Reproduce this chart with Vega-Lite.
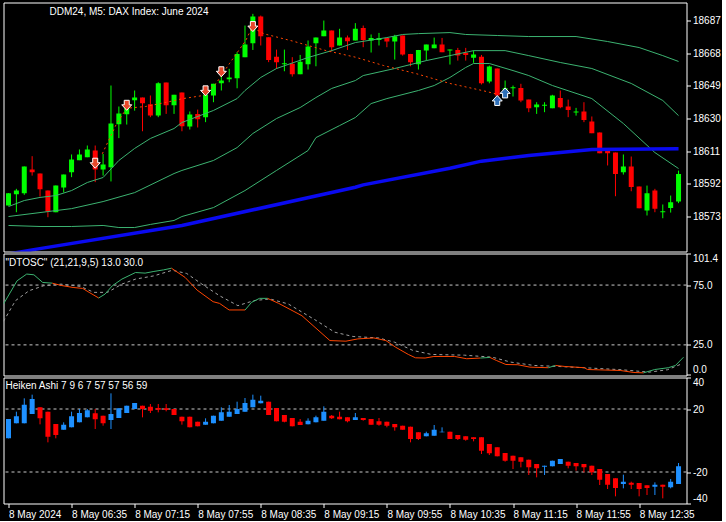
{
  "$schema": "https://vega.github.io/schema/vega-lite/v6.json",
  "background": "#000000",
  "padding": {"left": 2.5, "top": 1.5, "right": 0, "bottom": 0},
  "bounds": "flush",
  "spacing": 2,
  "config": {
    "view": {"stroke": "#FFFFFF", "strokeWidth": 1},
    "axis": {"domain": false, "grid": false, "labelColor": "#FFFFFF", "tickColor": "#FFFFFF", "labelFont": "Liberation Sans", "labelFontSize": 10, "tickSize": 4, "labelPadding": 2},
    "title": {"color": "#FFFFFF", "font": "Liberation Sans", "fontSize": 10, "fontWeight": "normal", "anchor": "start", "baseline": "top"}
  },
  "datasets": {
    "candles": [
      {"i":0,"o":18579.4,"h":18586.6,"l":18579.4,"c":18586.6},
      {"i":1,"o":18586.0,"h":18589.1,"l":18575.5,"c":18588.1},
      {"i":2,"o":18586.6,"h":18602.1,"l":18585.6,"c":18602.1},
      {"i":3,"o":18600.3,"h":18608.1,"l":18596.8,"c":18598.8},
      {"i":4,"o":18598.0,"h":18598.0,"l":18584.6,"c":18588.9},
      {"i":5,"o":18588.1,"h":18588.1,"l":18572.6,"c":18575.9},
      {"i":6,"o":18575.5,"h":18591.0,"l":18575.5,"c":18591.0},
      {"i":7,"o":18589.9,"h":18597.4,"l":18587.0,"c":18597.4},
      {"i":8,"o":18598.8,"h":18609.1,"l":18595.9,"c":18606.2},
      {"i":9,"o":18605.8,"h":18612.0,"l":18605.8,"c":18609.1},
      {"i":10,"o":18607.5,"h":18614.3,"l":18607.5,"c":18612.0},
      {"i":11,"o":18611.4,"h":18614.3,"l":18593.0,"c":18600.3},
      {"i":12,"o":18600.3,"h":18609.4,"l":18596.8,"c":18603.2},
      {"i":13,"o":18601.7,"h":18649.2,"l":18593.4,"c":18627.1},
      {"i":14,"o":18626.7,"h":18637.0,"l":18618.6,"c":18632.9},
      {"i":15,"o":18632.5,"h":18640.0,"l":18626.5,"c":18639.5},
      {"i":16,"o":18640.7,"h":18646.3,"l":18634.6,"c":18642.2},
      {"i":17,"o":18642.2,"h":18642.2,"l":18622.6,"c":18638.9},
      {"i":18,"o":18638.3,"h":18643.4,"l":18630.8,"c":18631.7},
      {"i":19,"o":18631.7,"h":18651.1,"l":18630.8,"c":18650.5},
      {"i":20,"o":18650.9,"h":18650.9,"l":18632.7,"c":18637.8},
      {"i":21,"o":18637.8,"h":18643.8,"l":18632.7,"c":18643.8},
      {"i":22,"o":18645.1,"h":18645.1,"l":18622.6,"c":18625.5},
      {"i":23,"o":18625.3,"h":18634.1,"l":18623.6,"c":18632.3},
      {"i":24,"o":18632.7,"h":18635.2,"l":18624.8,"c":18629.6},
      {"i":25,"o":18630.8,"h":18643.8,"l":18627.9,"c":18643.8},
      {"i":26,"o":18643.4,"h":18650.2,"l":18639.5,"c":18650.2},
      {"i":27,"o":18650.5,"h":18658.9,"l":18646.3,"c":18652.1},
      {"i":28,"o":18652.9,"h":18658.9,"l":18651.1,"c":18653.9},
      {"i":29,"o":18653.5,"h":18668.6,"l":18647.6,"c":18667.6},
      {"i":30,"o":18665.7,"h":18684.1,"l":18665.7,"c":18673.0},
      {"i":31,"o":18673.8,"h":18690.9,"l":18669.9,"c":18689.3},
      {"i":32,"o":18689.3,"h":18689.9,"l":18672.5,"c":18677.9},
      {"i":33,"o":18677.3,"h":18677.3,"l":18662.8,"c":18664.1},
      {"i":34,"o":18666.0,"h":18670.1,"l":18658.9,"c":18662.8},
      {"i":35,"o":18661.6,"h":18670.1,"l":18657.5,"c":18662.2},
      {"i":36,"o":18661.8,"h":18665.7,"l":18654.4,"c":18655.8},
      {"i":37,"o":18655.8,"h":18667.0,"l":18655.8,"c":18663.1},
      {"i":38,"o":18661.6,"h":18675.4,"l":18658.5,"c":18671.9},
      {"i":39,"o":18673.8,"h":18677.1,"l":18660.4,"c":18677.1},
      {"i":40,"o":18677.9,"h":18687.0,"l":18677.9,"c":18681.2},
      {"i":41,"o":18681.2,"h":18681.2,"l":18669.0,"c":18671.5},
      {"i":42,"o":18672.5,"h":18682.2,"l":18672.5,"c":18677.1},
      {"i":43,"o":18677.1,"h":18678.3,"l":18669.9,"c":18675.0},
      {"i":44,"o":18675.4,"h":18685.5,"l":18675.4,"c":18682.2},
      {"i":45,"o":18682.7,"h":18684.1,"l":18671.5,"c":18675.7},
      {"i":46,"o":18675.4,"h":18678.9,"l":18668.4,"c":18676.9},
      {"i":47,"o":18675.7,"h":18679.8,"l":18672.5,"c":18676.9},
      {"i":48,"o":18676.9,"h":18676.9,"l":18671.5,"c":18674.8},
      {"i":49,"o":18674.8,"h":18678.7,"l":18664.3,"c":18677.9},
      {"i":50,"o":18678.3,"h":18678.3,"l":18666.6,"c":18667.2},
      {"i":51,"o":18667.6,"h":18667.6,"l":18660.4,"c":18662.8},
      {"i":52,"o":18661.6,"h":18669.9,"l":18658.5,"c":18669.9},
      {"i":53,"o":18669.6,"h":18673.0,"l":18663.7,"c":18673.0},
      {"i":54,"o":18670.9,"h":18677.1,"l":18670.9,"c":18673.0},
      {"i":55,"o":18673.0,"h":18676.9,"l":18668.6,"c":18668.6},
      {"i":56,"o":18669.6,"h":18670.1,"l":18661.4,"c":18670.1},
      {"i":57,"o":18669.9,"h":18671.1,"l":18663.7,"c":18666.6},
      {"i":58,"o":18668.2,"h":18671.1,"l":18663.7,"c":18667.0},
      {"i":59,"o":18665.3,"h":18669.6,"l":18662.4,"c":18667.2},
      {"i":60,"o":18666.0,"h":18667.0,"l":18649.8,"c":18650.5},
      {"i":61,"o":18651.5,"h":18660.8,"l":18650.5,"c":18660.2},
      {"i":62,"o":18659.1,"h":18659.1,"l":18642.8,"c":18643.4},
      {"i":63,"o":18646.7,"h":18652.1,"l":18645.9,"c":18647.6},
      {"i":64,"o":18647.6,"h":18649.2,"l":18642.8,"c":18648.2},
      {"i":65,"o":18647.8,"h":18650.2,"l":18639.5,"c":18640.5},
      {"i":66,"o":18641.0,"h":18641.0,"l":18633.7,"c":18636.0},
      {"i":67,"o":18636.6,"h":18639.5,"l":18632.7,"c":18638.1},
      {"i":68,"o":18637.4,"h":18639.5,"l":18633.7,"c":18638.0},
      {"i":69,"o":18636.0,"h":18643.8,"l":18636.0,"c":18643.4},
      {"i":70,"o":18642.0,"h":18646.3,"l":18636.0,"c":18636.6},
      {"i":71,"o":18637.0,"h":18641.0,"l":18630.8,"c":18635.0},
      {"i":72,"o":18633.5,"h":18636.2,"l":18631.7,"c":18634.1},
      {"i":73,"o":18634.1,"h":18639.5,"l":18627.9,"c":18629.2},
      {"i":74,"o":18628.3,"h":18631.2,"l":18621.5,"c":18621.5},
      {"i":75,"o":18621.9,"h":18621.9,"l":18609.8,"c":18609.8},
      {"i":76,"o":18611.4,"h":18611.4,"l":18602.7,"c":18609.8},
      {"i":77,"o":18610.2,"h":18610.2,"l":18584.8,"c":18597.8},
      {"i":78,"o":18598.8,"h":18609.1,"l":18597.4,"c":18602.1},
      {"i":79,"o":18602.1,"h":18607.9,"l":18587.7,"c":18590.1},
      {"i":80,"o":18590.4,"h":18590.4,"l":18577.8,"c":18577.8},
      {"i":81,"o":18576.5,"h":18591.0,"l":18573.6,"c":18586.6},
      {"i":82,"o":18588.1,"h":18589.1,"l":18575.5,"c":18577.5},
      {"i":83,"o":18575.5,"h":18580.0,"l":18572.0,"c":18576.1},
      {"i":84,"o":18577.9,"h":18585.2,"l":18575.3,"c":18581.3},
      {"i":85,"o":18581.7,"h":18599.7,"l":18580.8,"c":18597.8}
    ],
    "bands": [
      {"b":"up","i":0,"v":18578.8},{"b":"up","i":2,"v":18582.3},{"b":"up","i":4,"v":18584.1},{"b":"up","i":6,"v":18585.2},
      {"b":"up","i":8,"v":18588.1},{"b":"up","i":10,"v":18592.8},{"b":"up","i":12,"v":18595.7},{"b":"up","i":14,"v":18605.6},
      {"b":"up","i":16,"v":18612.6},{"b":"up","i":18,"v":18618.4},{"b":"up","i":21,"v":18624.2},{"b":"up","i":22,"v":18627.7},
      {"b":"up","i":26,"v":18634.7},{"b":"up","i":29,"v":18641.6},{"b":"up","i":30,"v":18646.3},{"b":"up","i":32,"v":18653.9},
      {"b":"up","i":34,"v":18659.1},{"b":"up","i":38,"v":18665.5},{"b":"up","i":41,"v":18669.5},{"b":"up","i":44,"v":18674.2},
      {"b":"up","i":48,"v":18677.1},{"b":"up","i":50,"v":18678.9},{"b":"up","i":52,"v":18679.4},{"b":"up","i":56,"v":18680.0},
      {"b":"up","i":58,"v":18678.9},{"b":"up","i":62,"v":18678.3},{"b":"up","i":66,"v":18677.7},{"b":"up","i":72,"v":18677.7},
      {"b":"up","i":76,"v":18674.8},{"b":"up","i":80,"v":18671.3},{"b":"up","i":83,"v":18666.6},{"b":"up","i":85,"v":18663.2},
      {"b":"mid","i":0,"v":18573.0},{"b":"mid","i":4,"v":18575.3},{"b":"mid","i":8,"v":18577.6},{"b":"mid","i":12,"v":18581.7},
      {"b":"mid","i":16,"v":18586.9},{"b":"mid","i":21,"v":18598.0},{"b":"mid","i":22,"v":18599.8},{"b":"mid","i":26,"v":18605.6},
      {"b":"mid","i":29,"v":18613.1},{"b":"mid","i":31,"v":18621.3},{"b":"mid","i":34,"v":18630.0},{"b":"mid","i":37,"v":18636.4},
      {"b":"mid","i":39,"v":18642.2},{"b":"mid","i":41,"v":18647.5},{"b":"mid","i":44,"v":18652.1},{"b":"mid","i":45,"v":18655.0},
      {"b":"mid","i":49,"v":18659.1},{"b":"mid","i":53,"v":18663.7},{"b":"mid","i":59,"v":18669.5},{"b":"mid","i":63,"v":18669.5},
      {"b":"mid","i":66,"v":18666.6},{"b":"mid","i":70,"v":18662.6},{"b":"mid","i":74,"v":18659.1},{"b":"mid","i":79,"v":18650.4},
      {"b":"mid","i":83,"v":18640.5},{"b":"mid","i":85,"v":18631.7},
      {"b":"low","i":0,"v":18567.8},{"b":"low","i":4,"v":18567.2},{"b":"low","i":8,"v":18567.2},{"b":"low","i":12,"v":18567.8},
      {"b":"low","i":14,"v":18566.6},{"b":"low","i":16,"v":18566.6},{"b":"low","i":18,"v":18568.4},{"b":"low","i":21,"v":18570.7},
      {"b":"low","i":22,"v":18573.0},{"b":"low","i":26,"v":18578.2},{"b":"low","i":30,"v":18588.1},{"b":"low","i":34,"v":18599.8},
      {"b":"low","i":38,"v":18611.4},{"b":"low","i":39,"v":18618.9},{"b":"low","i":42,"v":18625.9},{"b":"low","i":44,"v":18630.6},
      {"b":"low","i":46,"v":18638.7},{"b":"low","i":48,"v":18641.6},{"b":"low","i":52,"v":18646.3},{"b":"low","i":54,"v":18649.2},
      {"b":"low","i":56,"v":18653.9},{"b":"low","i":58,"v":18659.7},{"b":"low","i":59,"v":18662.0},{"b":"low","i":61,"v":18662.0},
      {"b":"low","i":64,"v":18657.9},{"b":"low","i":66,"v":18655.0},{"b":"low","i":69,"v":18649.2},{"b":"low","i":74,"v":18641.6},
      {"b":"low","i":78,"v":18627.1},{"b":"low","i":82,"v":18610.2},{"b":"low","i":85,"v":18600.9}
    ],
    "ma": [
      {"i":0,"v":18551.2},{"i":3,"v":18553.6},{"i":22,"v":18567.8},{"i":44,"v":18590.0},{"i":45,"v":18591.4},
      {"i":56,"v":18601.1},{"i":60,"v":18605.2},{"i":66,"v":18608.5},{"i":70,"v":18610.2},{"i":74,"v":18612.0},{"i":85,"v":18612.4}
    ],
    "zz": [
      {"i":11.9,"v":18609.5},{"i":13.7,"v":18626.9},{"i":15,"v":18636.0},{"i":17.4,"v":18637.0},{"i":20.1,"v":18639.5},
      {"i":22,"v":18641.5},{"i":24.7,"v":18643.4},{"i":26.3,"v":18650.2},{"i":28,"v":18661.8},{"i":30.1,"v":18675.4},
      {"i":30.9,"v":18683.1},{"i":32.4,"v":18679.3},{"i":36.1,"v":18675.0},{"i":40.3,"v":18669.5},{"i":44,"v":18665.7},
      {"i":47.6,"v":18660.8},{"i":51.8,"v":18656.0},{"i":55.9,"v":18650.5},{"i":60.1,"v":18646.3},{"i":61.8,"v":18644.4}
    ],
    "arrows": [
      {"i":11,"v":18604.0,"d":"down"},{"i":15,"v":18637.7,"d":"down"},{"i":25,"v":18646.1,"d":"down"},
      {"i":27,"v":18657.2,"d":"down"},{"i":31,"v":18683.5,"d":"down"},
      {"i":62,"v":18640.5,"d":"up"},{"i":63,"v":18644.9,"d":"up"}
    ],
    "osc": [
      {"s":1,"k":"g","i":0,"v":59.2},{"s":1,"k":"g","i":1.7,"v":78.6},{"s":1,"k":"g","i":2.9,"v":84.2},{"s":1,"k":"g","i":3.8,"v":83.6},{"s":1,"k":"g","i":4.9,"v":77.2},{"s":1,"k":"g","i":6.1,"v":76.6},
      {"s":2,"k":"r","i":6.1,"v":76.6},{"s":2,"k":"r","i":7.2,"v":74.7},{"s":2,"k":"r","i":8.7,"v":73.0},{"s":2,"k":"r","i":9.9,"v":72.2},{"s":2,"k":"r","i":10.7,"v":68.9},{"s":2,"k":"r","i":11.9,"v":64.2},
      {"s":3,"k":"g","i":11.9,"v":64.2},{"s":3,"k":"g","i":12.7,"v":67.5},{"s":3,"k":"g","i":13.6,"v":74.4},{"s":3,"k":"g","i":14.8,"v":80.0},{"s":3,"k":"g","i":16.5,"v":85.5},{"s":3,"k":"g","i":17.7,"v":85.0},{"s":3,"k":"g","i":18.8,"v":86.4},{"s":3,"k":"g","i":20,"v":87.7},{"s":3,"k":"g","i":21,"v":89.1},
      {"s":4,"k":"r","i":21,"v":89.1},{"s":4,"k":"r","i":22.7,"v":81.4},{"s":4,"k":"r","i":24.2,"v":70.8},{"s":4,"k":"r","i":26.2,"v":61.1},{"s":4,"k":"r","i":27,"v":59.7},{"s":4,"k":"r","i":28.2,"v":54.2},{"s":4,"k":"r","i":30.2,"v":54.2},
      {"s":5,"k":"g","i":30.2,"v":54.2},{"s":5,"k":"g","i":31,"v":60.5},{"s":5,"k":"g","i":32,"v":63.9},{"s":5,"k":"g","i":33,"v":63.9},
      {"s":6,"k":"r","i":33,"v":63.9},{"s":6,"k":"r","i":34.4,"v":59.7},{"s":6,"k":"r","i":37.3,"v":49.4},{"s":6,"k":"r","i":40.8,"v":28.6},{"s":6,"k":"r","i":42.8,"v":28.1},{"s":6,"k":"r","i":44.3,"v":30.0},{"s":6,"k":"r","i":46.3,"v":30.8},{"s":6,"k":"r","i":47.8,"v":28.6},{"s":6,"k":"r","i":49,"v":23.1},{"s":6,"k":"r","i":50.6,"v":17.0},{"s":6,"k":"r","i":51.5,"v":14.2},{"s":6,"k":"r","i":52.7,"v":14.0},{"s":6,"k":"r","i":53.8,"v":15.3},{"s":6,"k":"r","i":56.4,"v":15.3},{"s":6,"k":"r","i":57.9,"v":13.4},{"s":6,"k":"r","i":59.6,"v":14.0},
      {"s":7,"k":"g","i":59.6,"v":14.0},{"s":7,"k":"g","i":60.8,"v":14.5},
      {"s":8,"k":"r","i":60.8,"v":14.5},{"s":8,"k":"r","i":61.6,"v":12.0},{"s":8,"k":"r","i":62.8,"v":8.6},{"s":8,"k":"r","i":64.3,"v":8.4},{"s":8,"k":"r","i":65.8,"v":6.4},{"s":8,"k":"r","i":68.1,"v":5.9},
      {"s":9,"k":"g","i":68.1,"v":5.9},{"s":9,"k":"g","i":69,"v":7.8},
      {"s":10,"k":"r","i":69,"v":7.8},{"s":10,"k":"r","i":70.1,"v":7.0},{"s":10,"k":"r","i":72.6,"v":5.9},{"s":10,"k":"r","i":73,"v":4.4},{"s":10,"k":"r","i":77.1,"v":3.6},{"s":10,"k":"r","i":78.8,"v":1.9},{"s":10,"k":"r","i":80,"v":1.6},
      {"s":11,"k":"g","i":80,"v":1.6},{"s":11,"k":"g","i":81.4,"v":4.4},{"s":11,"k":"g","i":83.1,"v":5.9},{"s":11,"k":"g","i":84,"v":7.8},{"s":11,"k":"g","i":85,"v":14.7}
    ],
    "sig": [
      {"i":0,"v":44.7},{"i":1.5,"v":62.0},{"i":3.2,"v":70.3},{"i":5,"v":74.4},{"i":7.2,"v":75.8},{"i":9.6,"v":73.9},
      {"i":11.3,"v":68.9},{"i":13,"v":68.9},{"i":14.8,"v":75.8},{"i":16.5,"v":80.0},{"i":18.8,"v":82.7},{"i":21.1,"v":87.4},
      {"i":22.9,"v":84.7},{"i":24.8,"v":75.8},{"i":27,"v":66.1},{"i":29.3,"v":57.8},{"i":31.3,"v":62.0},{"i":33.3,"v":63.4},
      {"i":35.6,"v":59.2},{"i":39.1,"v":45.3},{"i":41.4,"v":35.6},{"i":43.7,"v":32.0},{"i":46.9,"v":30.8},{"i":48.9,"v":27.2},
      {"i":51.2,"v":20.3},{"i":53.5,"v":17.0},{"i":57.6,"v":16.4},{"i":61.1,"v":14.7},{"i":63.4,"v":10.6},{"i":66.3,"v":7.8},
      {"i":69.2,"v":7.0},{"i":72.6,"v":5.9},{"i":77.3,"v":4.2},{"i":80.7,"v":2.2},{"i":83,"v":4.2},{"i":84.8,"v":9.2}
    ],
    "ha": [
      {"i":0,"o":1.37,"c":13.65,"h":13.65,"l":1.37},
      {"i":1,"o":10.90,"c":15.34,"h":18.30,"l":10.90},
      {"i":2,"o":10.90,"c":22.75,"h":26.77,"l":10.90},
      {"i":3,"o":16.82,"c":26.35,"h":29.10,"l":16.82},
      {"i":4,"o":21.05,"c":14.07,"h":21.05,"l":10.26},
      {"i":5,"o":18.30,"c":2.43,"h":18.30,"l":-1.17},
      {"i":6,"o":10.47,"c":3.49,"h":10.47,"l":1.37},
      {"i":7,"o":6.87,"c":10.05,"h":11.53,"l":6.87},
      {"i":8,"o":8.36,"c":15.34,"h":18.30,"l":8.36},
      {"i":9,"o":11.53,"c":17.46,"h":20.0,"l":11.53},
      {"i":10,"o":14.70,"c":19.15,"h":20.0,"l":14.70},
      {"i":11,"o":17.24,"c":13.43,"h":20.0,"l":7.30},
      {"i":12,"o":15.76,"c":10.90,"h":15.76,"l":9.41},
      {"i":13,"o":13.01,"c":16.82,"h":29.94,"l":7.30},
      {"i":14,"o":14.28,"c":20.42,"h":20.42,"l":14.28},
      {"i":15,"o":17.46,"c":22.11,"h":22.11,"l":17.46},
      {"i":16,"o":20.0,"c":23.81,"h":23.81,"l":20.0},
      {"i":17,"o":22.11,"c":20.0,"h":22.11,"l":14.70},
      {"i":18,"o":21.48,"c":18.94,"h":23.17,"l":17.46},
      {"i":19,"o":20.63,"c":19.57,"h":23.17,"l":17.88},
      {"i":20,"o":20.42,"c":19.36,"h":23.17,"l":18.51},
      {"i":21,"o":20.0,"c":16.19,"h":20.0,"l":16.19},
      {"i":22,"o":15.13,"c":12.17,"h":15.13,"l":10.05},
      {"i":23,"o":15.13,"c":8.36,"h":15.13,"l":8.36},
      {"i":24,"o":11.95,"c":8.99,"h":11.95,"l":8.99},
      {"i":25,"o":10.05,"c":11.95,"h":14.07,"l":10.05},
      {"i":26,"o":10.90,"c":15.76,"h":15.76,"l":10.90},
      {"i":27,"o":12.59,"c":17.88,"h":21.05,"l":12.59},
      {"i":28,"o":15.13,"c":18.30,"h":22.54,"l":15.13},
      {"i":29,"o":16.82,"c":20.0,"h":24.65,"l":16.82},
      {"i":30,"o":18.30,"c":23.81,"h":26.98,"l":18.30},
      {"i":31,"o":21.05,"c":25.92,"h":29.10,"l":21.05},
      {"i":32,"o":23.59,"c":25.29,"h":28.46,"l":23.59},
      {"i":33,"o":24.65,"c":16.19,"h":24.65,"l":16.19},
      {"i":34,"o":20.63,"c":12.17,"h":20.63,"l":12.17},
      {"i":35,"o":16.19,"c":11.95,"h":16.19,"l":11.53},
      {"i":36,"o":14.28,"c":8.99,"h":14.28,"l":8.99},
      {"i":37,"o":11.95,"c":9.84,"h":13.65,"l":9.84},
      {"i":38,"o":10.26,"c":12.59,"h":14.07,"l":10.26},
      {"i":39,"o":11.53,"c":14.70,"h":15.76,"l":11.53},
      {"i":40,"o":12.59,"c":18.30,"h":21.69,"l":12.59},
      {"i":41,"o":15.76,"c":14.07,"h":16.19,"l":13.65},
      {"i":42,"o":15.13,"c":13.43,"h":18.30,"l":13.43},
      {"i":43,"o":14.70,"c":12.17,"h":14.70,"l":11.53},
      {"i":44,"o":13.01,"c":14.70,"h":17.46,"l":13.01},
      {"i":45,"o":14.28,"c":13.01,"h":14.28,"l":12.59},
      {"i":46,"o":13.65,"c":10.05,"h":13.65,"l":10.05},
      {"i":47,"o":12.17,"c":10.05,"h":14.28,"l":9.41},
      {"i":48,"o":11.95,"c":9.41,"h":11.95,"l":8.36},
      {"i":49,"o":10.47,"c":8.36,"h":10.47,"l":6.24},
      {"i":50,"o":9.41,"c":6.87,"h":9.41,"l":6.87},
      {"i":51,"o":8.78,"c":0.95,"h":8.78,"l":-1.17},
      {"i":52,"o":5.18,"c":0.95,"h":5.18,"l":0.31},
      {"i":53,"o":2.64,"c":4.55,"h":5.60,"l":2.64},
      {"i":54,"o":3.06,"c":6.87,"h":9.84,"l":3.06},
      {"i":55,"o":5.18,"c":5.60,"h":8.36,"l":5.18},
      {"i":56,"o":5.60,"c":0.95,"h":5.60,"l":0.95},
      {"i":57,"o":3.49,"c":0.95,"h":3.49,"l":0.31},
      {"i":58,"o":2.64,"c":0.53,"h":2.64,"l":-0.11},
      {"i":59,"o":2.01,"c":0.95,"h":2.01,"l":-0.53},
      {"i":60,"o":2.01,"c":-6.46,"h":2.01,"l":-8.58},
      {"i":61,"o":-2.23,"c":-8.15,"h":-2.23,"l":-9.21},
      {"i":62,"o":-4.34,"c":-10.06,"h":-4.34,"l":-10.06},
      {"i":63,"o":-7.94,"c":-12.81,"h":-7.94,"l":-13.44},
      {"i":64,"o":-9.63,"c":-12.81,"h":-9.63,"l":-18.10},
      {"i":65,"o":-10.69,"c":-13.44,"h":-10.69,"l":-17.04},
      {"i":66,"o":-12.17,"c":-17.04,"h":-12.17,"l":-21.91},
      {"i":67,"o":-14.92,"c":-17.68,"h":-14.92,"l":-23.39},
      {"i":68,"o":-16.62,"c":-15.98,"h":-15.98,"l":-21.91},
      {"i":69,"o":-16.41,"c":-12.81,"h":-12.81,"l":-16.41},
      {"i":70,"o":-14.92,"c":-11.75,"h":-11.75,"l":-14.92},
      {"i":71,"o":-13.44,"c":-15.98,"h":-13.44,"l":-17.68},
      {"i":72,"o":-14.29,"c":-16.41,"h":-14.29,"l":-19.16},
      {"i":73,"o":-14.92,"c":-17.04,"h":-14.92,"l":-20.22},
      {"i":74,"o":-15.98,"c":-20.22,"h":-15.98,"l":-21.91},
      {"i":75,"o":-18.10,"c":-24.87,"h":-18.10,"l":-28.26},
      {"i":76,"o":-21.27,"c":-28.05,"h":-21.27,"l":-30.80},
      {"i":77,"o":-24.03,"c":-30.16,"h":-24.03,"l":-35.45},
      {"i":78,"o":-27.62,"c":-26.14,"h":-21.70,"l":-30.37},
      {"i":79,"o":-26.78,"c":-28.05,"h":-26.14,"l":-30.80},
      {"i":80,"o":-26.99,"c":-30.80,"h":-26.99,"l":-35.45},
      {"i":81,"o":-28.47,"c":-30.16,"h":-28.47,"l":-34.61},
      {"i":82,"o":-29.32,"c":-28.05,"h":-26.57,"l":-34.61},
      {"i":83,"o":-28.05,"c":-29.32,"h":-28.05,"l":-36.72},
      {"i":84,"o":-29.74,"c":-26.14,"h":-24.45,"l":-30.37},
      {"i":85,"o":-27.62,"c":-16.41,"h":-14.29,"l":-27.62}
    ]
  },
  "vconcat": [
    {
      "width": 683,
      "height": 249,
      "title": {"text": "DDM24, M5:  DAX Index: June 2024", "offset": -14, "dx": 46},
      "layer": [
        {
          "data": {"name": "candles"},
          "mark": {"type": "rule", "clip": true, "strokeWidth": 1},
          "encoding": {
            "x": {"field": "i", "type": "quantitative", "scale": {"domain": [0, 85.375], "nice": false, "zero": false}, "axis": null},
            "y": {"field": "l", "type": "quantitative", "scale": {"domain": [18552.65, 18697.5], "nice": false, "zero": false},
                  "axis": {"orient": "right", "values": [18573, 18592, 18611, 18630, 18649, 18668, 18687], "format": "d", "title": null}},
            "y2": {"field": "h"},
            "color": {"condition": {"test": "datum.c >= datum.o", "value": "#00FF00"}, "value": "#FF0000"}
          }
        },
        {
          "data": {"name": "candles"},
          "mark": {"type": "bar", "clip": true, "width": 5},
          "encoding": {
            "x": {"field": "i", "type": "quantitative"},
            "y": {"field": "o", "type": "quantitative"},
            "y2": {"field": "c"},
            "color": {"condition": {"test": "datum.c >= datum.o", "value": "#00FF00"}, "value": "#FF0000"}
          }
        },
        {
          "data": {"name": "bands"},
          "mark": {"type": "line", "clip": true, "strokeWidth": 1, "color": "#3CB371"},
          "encoding": {
            "x": {"field": "i", "type": "quantitative"},
            "y": {"field": "v", "type": "quantitative"},
            "detail": {"field": "b", "type": "nominal"}
          }
        },
        {
          "data": {"name": "ma"},
          "mark": {"type": "line", "clip": true, "strokeWidth": 3.5, "color": "#0A0AF0"},
          "encoding": {
            "x": {"field": "i", "type": "quantitative"},
            "y": {"field": "v", "type": "quantitative"}
          }
        },
        {
          "data": {"name": "zz"},
          "mark": {"type": "line", "clip": true, "strokeWidth": 1, "color": "#FF4500", "strokeDash": [2, 3]},
          "encoding": {
            "x": {"field": "i", "type": "quantitative"},
            "y": {"field": "v", "type": "quantitative"}
          }
        },
        {
          "data": {"name": "arrows"},
          "transform": [{"filter": "datum.d == 'down'"}],
          "mark": {"type": "point", "filled": true, "opacity": 1, "size": 100, "fill": "#E8482A", "stroke": "#FFFFFF", "strokeWidth": 1,
                   "shape": "M-0.5,-1L0.5,-1L0.5,-0.1L1,-0.1L0,1L-1,-0.1L-0.5,-0.1Z"},
          "encoding": {
            "x": {"field": "i", "type": "quantitative"},
            "y": {"field": "v", "type": "quantitative"}
          }
        },
        {
          "data": {"name": "arrows"},
          "transform": [{"filter": "datum.d == 'up'"}],
          "mark": {"type": "point", "filled": true, "opacity": 1, "size": 100, "fill": "#2E6FB8", "stroke": "#FFFFFF", "strokeWidth": 1,
                   "shape": "M-0.5,1L0.5,1L0.5,0.1L1,0.1L0,-1L-1,0.1L-0.5,0.1Z"},
          "encoding": {
            "x": {"field": "i", "type": "quantitative"},
            "y": {"field": "v", "type": "quantitative"}
          }
        }
      ]
    },
    {
      "width": 683,
      "height": 122,
      "title": {"text": "\"DTOSC\" (21,21,9,5) 13.0 30.0", "offset": -14.5, "dx": 2.5},
      "layer": [
        {
          "data": {"values": [{"lv": 75}, {"lv": 25}]},
          "mark": {"type": "rule", "color": "#C8C8C8", "strokeDash": [3, 3], "strokeWidth": 1},
          "encoding": {
            "y": {"field": "lv", "type": "quantitative", "scale": {"domain": [-0.6, 101.4], "nice": false, "zero": false},
                  "axis": {"orient": "right", "values": [0, 25, 75, 101.4], "format": ".1f", "labelFlush": true, "title": null}}
          }
        },
        {
          "data": {"name": "sig"},
          "mark": {"type": "line", "clip": true, "strokeWidth": 1, "color": "#A0A0A0", "strokeDash": [3, 3]},
          "encoding": {
            "x": {"field": "i", "type": "quantitative", "scale": {"domain": [0, 85.375], "nice": false, "zero": false}, "axis": null},
            "y": {"field": "v", "type": "quantitative"}
          }
        },
        {
          "data": {"name": "osc"},
          "mark": {"type": "line", "clip": true, "strokeWidth": 1},
          "encoding": {
            "x": {"field": "i", "type": "quantitative"},
            "y": {"field": "v", "type": "quantitative"},
            "detail": {"field": "s", "type": "nominal"},
            "color": {"field": "k", "type": "nominal", "scale": {"domain": ["g", "r"], "range": ["#3CB371", "#FF4500"]}, "legend": null}
          }
        }
      ]
    },
    {
      "width": 683,
      "height": 126,
      "title": {"text": "Heiken Ashi 7 9 6 7 57 57 56 59", "offset": -14, "dx": 2.5},
      "layer": [
        {
          "data": {"values": [{"lv": 20}, {"lv": -20}]},
          "mark": {"type": "rule", "color": "#C8C8C8", "strokeDash": [3, 3], "strokeWidth": 1},
          "encoding": {
            "y": {"field": "lv", "type": "quantitative", "scale": {"domain": [-40, 40], "nice": false, "zero": false},
                  "axis": {"orient": "right", "values": [-40, -20, 20, 40], "labelExpr": "'' + datum.value", "labelFlush": true, "title": null}}
          }
        },
        {
          "data": {"name": "ha"},
          "mark": {"type": "rule", "clip": true, "strokeWidth": 1},
          "encoding": {
            "x": {"field": "i", "type": "quantitative", "scale": {"domain": [0, 85.375], "nice": false, "zero": false},
                  "axis": {"values": [0, 8, 16, 24, 32, 40, 48, 56, 64, 72, 80], "labelAlign": "left", "labelOverlap": false, "labelFontSize": 10,
                           "labelExpr": "datum.value == 0 ? '8 May 2024' : '8 May ' + timeFormat(datetime(2024, 4, 8, 5, 55 + datum.value * 5), '%H:%M')", "title": null}},
            "y": {"field": "l", "type": "quantitative"},
            "y2": {"field": "h"},
            "color": {"condition": {"test": "datum.c >= datum.o", "value": "#1E90FF"}, "value": "#FF0000"}
          }
        },
        {
          "data": {"name": "ha"},
          "mark": {"type": "bar", "clip": true, "width": 5},
          "encoding": {
            "x": {"field": "i", "type": "quantitative"},
            "y": {"field": "o", "type": "quantitative"},
            "y2": {"field": "c"},
            "color": {"condition": {"test": "datum.c >= datum.o", "value": "#1E90FF"}, "value": "#FF0000"}
          }
        }
      ]
    }
  ]
}
